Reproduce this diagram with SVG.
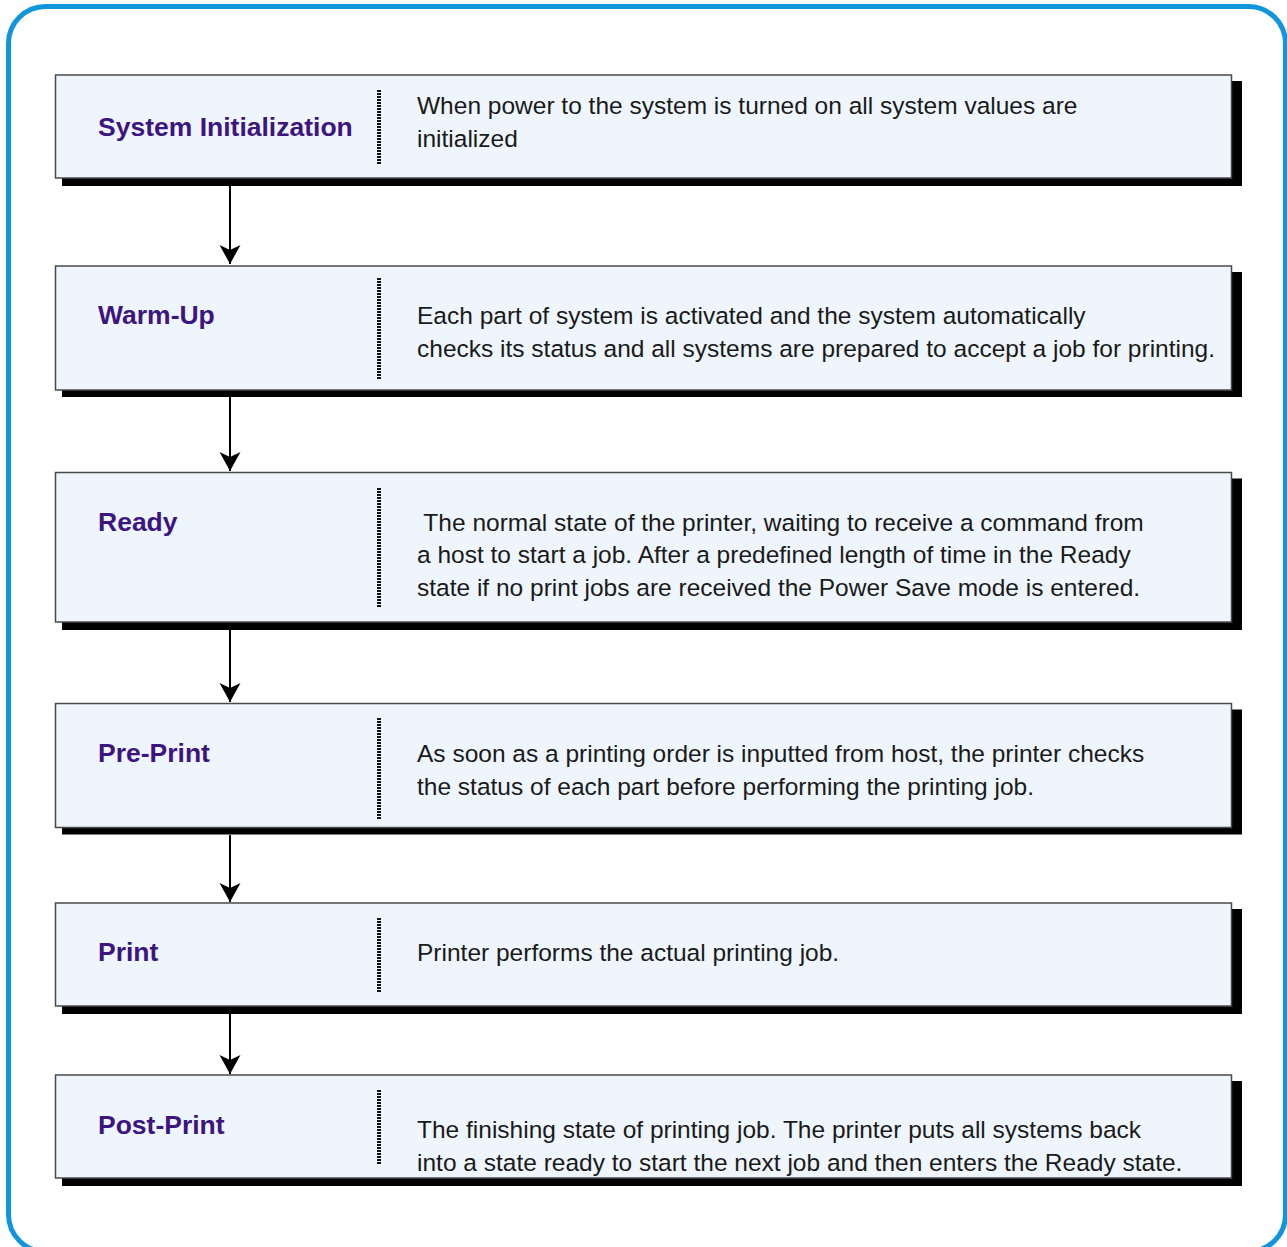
<svg xmlns="http://www.w3.org/2000/svg" width="1287" height="1247" viewBox="0 0 1287 1247">
<defs>
<style>
.frame{fill:#ffffff;stroke:#1296DB;stroke-width:5}
.shadow{fill:#000000}
.box{fill:#EEF5FC;stroke:#4a4a4a;stroke-width:1.5}
.sep{stroke:#111111;stroke-width:4;stroke-dasharray:2 1}
.title{font-family:"Liberation Sans",Arial,sans-serif;font-size:26.5px;font-weight:bold;fill:#3D1580}
.body{font-family:"Liberation Sans",Arial,sans-serif;font-size:24.5px;fill:#1A1A1A}
.conn{stroke:#000000;stroke-width:2;fill:none}
</style>
<marker id="arr" markerWidth="20" markerHeight="22" viewBox="0 0 20 22" refX="19" refY="11" orient="auto" markerUnits="userSpaceOnUse">
<path d="M19,11 L0,0.5 L5,11 L0,21.5 Z" fill="#000000"/>
</marker>
</defs>
<rect class="frame" x="8.5" y="6.5" width="1277" height="1245" rx="37" ry="37"/>

<g id="node-system-initialization">
<rect class="shadow" x="62" y="81" width="1180" height="105"/>
<rect class="box" x="55.5" y="75" width="1176" height="103"/>
<line class="sep" x1="379" y1="90" x2="379" y2="165"/>
<text class="title" x="98" y="135.5">System Initialization</text>
<text class="body" x="417" y="114">When power to the system is turned on all system values are</text>
<text class="body" x="417" y="147">initialized</text>
</g>

<g id="node-warm-up">
<rect class="shadow" x="62" y="272" width="1180" height="125"/>
<rect class="box" x="55.5" y="266" width="1176" height="124"/>
<line class="sep" x1="379" y1="278" x2="379" y2="380"/>
<text class="title" x="98" y="324">Warm-Up</text>
<text class="body" x="417" y="324">Each part of system is activated and the system automatically</text>
<text class="body" x="417" y="357">checks its status and all systems are prepared to accept a job for printing.</text>
</g>

<g id="node-ready">
<rect class="shadow" x="62" y="478.5" width="1180" height="151.5"/>
<rect class="box" x="55.5" y="472.5" width="1176" height="149.5"/>
<line class="sep" x1="379" y1="488" x2="379" y2="607"/>
<text class="title" x="98" y="531">Ready</text>
<text class="body" x="417" y="531" xml:space="preserve"> The normal state of the printer, waiting to receive a command from</text>
<text class="body" x="417" y="563">a host to start a job. After a predefined length of time in the Ready</text>
<text class="body" x="417" y="596">state if no print jobs are received the Power Save mode is entered.</text>
</g>

<g id="node-pre-print">
<rect class="shadow" x="62" y="709.5" width="1180" height="125"/>
<rect class="box" x="55.5" y="703.5" width="1176" height="124"/>
<line class="sep" x1="379" y1="718" x2="379" y2="820"/>
<text class="title" x="98" y="762">Pre-Print</text>
<text class="body" x="417" y="762">As soon as a printing order is inputted from host, the printer checks</text>
<text class="body" x="417" y="795">the status of each part before performing the printing job.</text>
</g>

<g id="node-print">
<rect class="shadow" x="62" y="909" width="1180" height="105"/>
<rect class="box" x="55.5" y="903" width="1176" height="103"/>
<line class="sep" x1="379" y1="918" x2="379" y2="993"/>
<text class="title" x="98" y="961">Print</text>
<text class="body" x="417" y="961">Printer performs the actual printing job.</text>
</g>

<g id="node-post-print">
<rect class="shadow" x="62" y="1081" width="1180" height="105"/>
<rect class="box" x="55.5" y="1075" width="1176" height="103"/>
<line class="sep" x1="379" y1="1090" x2="379" y2="1165"/>
<text class="title" x="98" y="1134">Post-Print</text>
<text class="body" x="417" y="1138">The finishing state of printing job. The printer puts all systems back</text>
<text class="body" x="417" y="1171">into a state ready to start the next job and then enters the Ready state.</text>
</g>

<g id="connectors">
<line class="conn" x1="230" y1="186" x2="230" y2="264" marker-end="url(#arr)"/>
<line class="conn" x1="230" y1="397" x2="230" y2="471" marker-end="url(#arr)"/>
<line class="conn" x1="230" y1="630" x2="230" y2="702" marker-end="url(#arr)"/>
<line class="conn" x1="230" y1="835" x2="230" y2="902" marker-end="url(#arr)"/>
<line class="conn" x1="230" y1="1014" x2="230" y2="1074" marker-end="url(#arr)"/>
</g>
</svg>
